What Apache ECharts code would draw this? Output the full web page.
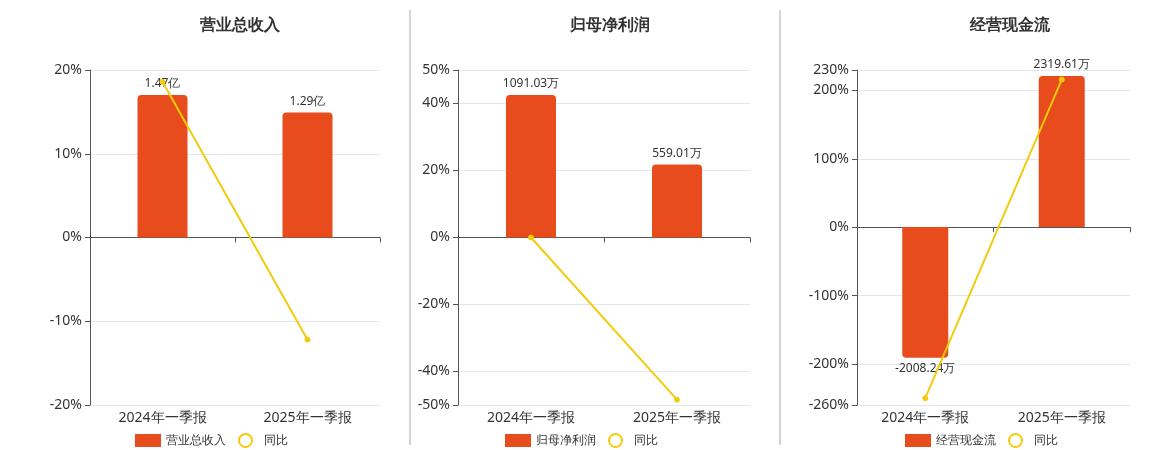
<!DOCTYPE html>
<html><head><meta charset="utf-8">
<script src="https://cdn.jsdelivr.net/npm/echarts@6/dist/echarts.min.js"></script>
<style>html,body{margin:0;padding:0;background:#fff}#c{width:1160px;height:450px}</style>
</head><body><div id="c"></div>
<script>
const categories = ["2024年一季报", "2025年一季报"];
const titles = ["营业总收入", "归母净利润", "经营现金流"];
const barValues1 = [1.47, 1.29];          // 亿
const barLabels1 = ["1.47亿", "1.29亿"];
const yoy1 = [18.6, -12.2];
const barValues2 = [1091.03, 559.01];     // 万
const barLabels2 = ["1091.03万", "559.01万"];
const yoy2 = [0, -48.4];
const barValues3 = [-2008.24, 2319.61];   // 万
const barLabels3 = ["-2008.24万", "2319.61万"];
const yoy3 = [-250, 216];
const pctTicks = [[-20, -10, 0, 10, 20], [-50, -40, -20, 0, 20, 40, 50], [-260, -200, -100, 0, 100, 200, 230]];
const pctRange = [[-20, 20], [-50, 50], [-260, 230]];
const barRange = [[-1.727, 1.727], [-1282, 1282], [-2735, 2412]];

const panels = [
  { bars: barValues1, labels: barLabels1, yoy: yoy1 },
  { bars: barValues2, labels: barLabels2, yoy: yoy2 },
  { bars: barValues3, labels: barLabels3, yoy: yoy3 }
];
const grids = [
  { left: 90, width: 290, top: 70, height: 335 },
  { left: 458, width: 292, top: 70, height: 335 },
  { left: 857, width: 273, top: 70, height: 335 }
];
const centers = [235, 605, 1005];
const font = "'Noto Sans', sans-serif";
const BAR = "#e84b1c", LINE = "#f2cc0c";

const option = {
  textStyle: { fontFamily: font },
  title: titles.map((t, i) => ({
    text: t, left: centers[i], top: 12, textAlign: "center",
    textStyle: { fontSize: 16, fontWeight: "bold", color: "#333" }
  })),
  legend: titles.map((t, i) => ({
    data: [{ name: t, icon: "rect" }, { name: "同比" + i, icon: "emptyCircle" }],
    formatter: n => n.startsWith("同比") ? "同比" : n,
    left: centers[i] - 105, top: 428, itemWidth: 26, itemHeight: 13, itemGap: 12,
    textStyle: { fontSize: 12, color: "#333" }
  })),
  graphic: [410, 780].map(x => ({
    type: "line", shape: { x1: x, y1: 10, x2: x, y2: 445 }, style: { stroke: "#aaa", lineWidth: 1 }
  })),
  grid: grids,
  xAxis: grids.map((g, i) => ({
    type: "category", gridIndex: i, data: categories,
    axisLine: { onZero: true, onZeroAxisIndex: i * 2, lineStyle: { color: "#555" } },
    axisTick: { show: true, lineStyle: { color: "#555" } },
    axisLabel: { fontSize: 14, color: "#333", margin: 0, verticalAlign: "top",
      formatter: v => v, position: "bottom" },
    position: "bottom"
  })),
  yAxis: [],
  series: []
};
// category labels placed at bottom of grid, not at zero line
option.xAxis.forEach(a => { a.axisLabel.show = false; });
panels.forEach((p, i) => {
  option.xAxis.push({
    type: "category", gridIndex: i, data: categories, position: "bottom",
    axisLine: { show: false }, axisTick: { show: false },
    axisLabel: { fontSize: 14, color: "#333", margin: 6 }
  });
});
panels.forEach((p, i) => {
  option.yAxis.push({
    type: "value", gridIndex: i, min: pctRange[i][0], max: pctRange[i][1],
    axisLine: { show: true, lineStyle: { color: "#555" } },
    axisTick: { show: true, customValues: pctTicks[i] },
    axisLabel: { fontSize: 14, color: "#333", formatter: "{value}%", customValues: pctTicks[i] },
    splitLine: { show: true, lineStyle: { color: "#e6e6ee" } }
  });
  option.yAxis.push({
    type: "value", gridIndex: i, min: barRange[i][0], max: barRange[i][1],
    show: false, splitLine: { show: false }
  });
  option.series.push({
    name: titles[i], type: "bar", xAxisIndex: i, yAxisIndex: i * 2 + 1,
    data: p.bars.map((v, k) => ({
      value: v,
      label: { show: true, formatter: p.labels[k], position: v < 0 ? "bottom" : "top",
        color: "#333", fontSize: 12 },
      itemStyle: { borderRadius: v < 0 ? [0, 0, 4, 4] : [4, 4, 0, 0] }
    })),
    barWidth: i === 2 ? 46 : 50, itemStyle: { color: BAR }
  });
  option.series.push({
    name: "同比" + i, type: "line", xAxisIndex: i, yAxisIndex: i * 2,
    data: p.yoy, symbol: "circle", symbolSize: 5,
    lineStyle: { color: LINE, width: 2 }, itemStyle: { color: LINE, borderColor: LINE }
  });
});

const chart = echarts.init(document.getElementById("c"));
chart.setOption(option);
</script>
</body></html>
